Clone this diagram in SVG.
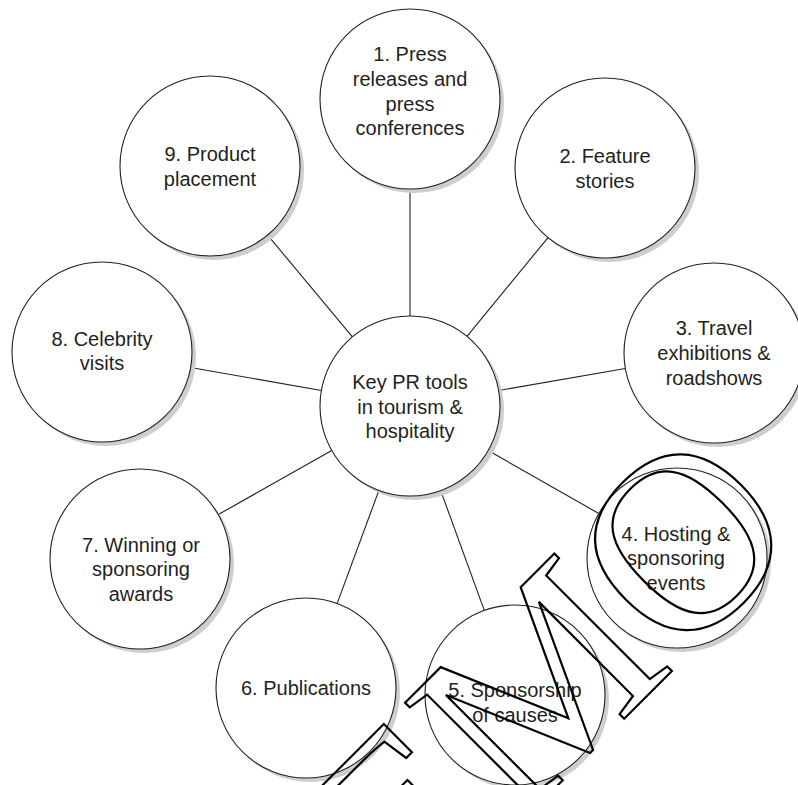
<svg xmlns="http://www.w3.org/2000/svg" width="798" height="785" viewBox="0 0 798 785">
<style>
.sh{fill:#cdced0;stroke:none}
.nd{fill:#fff;stroke:#231f20;stroke-width:1.1}
.lb{font-family:"Liberation Sans",Arial,sans-serif;font-size:20px;fill:#231f20;text-anchor:middle}
.cn line{stroke:#231f20;stroke-width:1.1}
.wm{font-family:"Liberation Serif","Times New Roman",serif;font-size:254px;fill:none;stroke:#000;stroke-width:2.2}
</style>
<rect width="798" height="785" fill="#fff"/>
<g id="connectors" class="cn">
<line x1="410" y1="316" x2="410" y2="189"/>
<line x1="467" y1="336.4" x2="548" y2="237.6"/>
<line x1="498.7" y1="390.5" x2="625.3" y2="368.5"/>
<line x1="488.2" y1="450.5" x2="598.8" y2="513.5"/>
<line x1="440.7" y1="490.6" x2="484.3" y2="610.4"/>
<line x1="378.9" y1="490.4" x2="337.1" y2="603.6"/>
<line x1="331.7" y1="450.4" x2="218.3" y2="514.6"/>
<line x1="321.4" y1="390.5" x2="190.6" y2="367.5"/>
<line x1="352.4" y1="336.9" x2="267.6" y2="235.1"/>
</g>
<g id="center">
<circle class="sh" cx="414" cy="410" r="90"/>
<circle class="nd" cx="410" cy="406" r="90"/>
<text class="lb" x="410" y="389">Key PR tools</text>
<text class="lb" x="410" y="413.5">in tourism &amp;</text>
<text class="lb" x="410" y="438">hospitality</text>
</g>
<g id="n1">
<circle class="sh" cx="414" cy="103" r="90"/>
<circle class="nd" cx="410" cy="99" r="90"/>
<text class="lb" x="410" y="61">1. Press</text>
<text class="lb" x="410" y="86">releases and</text>
<text class="lb" x="410" y="110.5">press</text>
<text class="lb" x="410" y="135">conferences</text>
</g>
<g id="n2">
<circle class="sh" cx="609" cy="172" r="90"/>
<circle class="nd" cx="605" cy="168" r="90"/>
<text class="lb" x="605" y="163">2. Feature</text>
<text class="lb" x="605" y="188">stories</text>
</g>
<g id="n3">
<circle class="sh" cx="718" cy="357" r="90"/>
<circle class="nd" cx="714" cy="353" r="90"/>
<text class="lb" x="714" y="335">3. Travel</text>
<text class="lb" x="714" y="360">exhibitions &amp;</text>
<text class="lb" x="714" y="385">roadshows</text>
</g>
<g id="n4">
<circle class="sh" cx="681" cy="562" r="90"/>
<circle class="nd" cx="677" cy="558" r="90"/>
<text class="lb" x="676" y="540.5">4. Hosting &amp;</text>
<text class="lb" x="676" y="565">sponsoring</text>
<text class="lb" x="676" y="590">events</text>
</g>
<g id="n5">
<circle class="sh" cx="519" cy="699" r="90"/>
<circle class="nd" cx="515" cy="695" r="90"/>
<text class="lb" x="515" y="696.5">5. Sponsorship</text>
<text class="lb" x="515" y="721.5">of causes</text>
</g>
<g id="n6">
<circle class="sh" cx="310" cy="692" r="90"/>
<circle class="nd" cx="306" cy="688" r="90"/>
<text class="lb" x="306" y="695">6. Publications</text>
</g>
<g id="n7">
<circle class="sh" cx="144" cy="563" r="90"/>
<circle class="nd" cx="140" cy="559" r="90"/>
<text class="lb" x="141" y="551.5">7. Winning or</text>
<text class="lb" x="141" y="576">sponsoring</text>
<text class="lb" x="141" y="601">awards</text>
</g>
<g id="n8">
<circle class="sh" cx="106" cy="356" r="90"/>
<circle class="nd" cx="102" cy="352" r="90"/>
<text class="lb" x="102" y="345.5">8. Celebrity</text>
<text class="lb" x="102" y="370">visits</text>
</g>
<g id="n9">
<circle class="sh" cx="214" cy="170" r="90"/>
<circle class="nd" cx="210" cy="166" r="90"/>
<text class="lb" x="210" y="161">9. Product</text>
<text class="lb" x="210" y="186">placement</text>
</g>
<g id="watermark">
<text class="wm" transform="translate(807,536) rotate(-45)" x="0" y="0" text-anchor="end">DEMO</text>
</g>
</svg>
